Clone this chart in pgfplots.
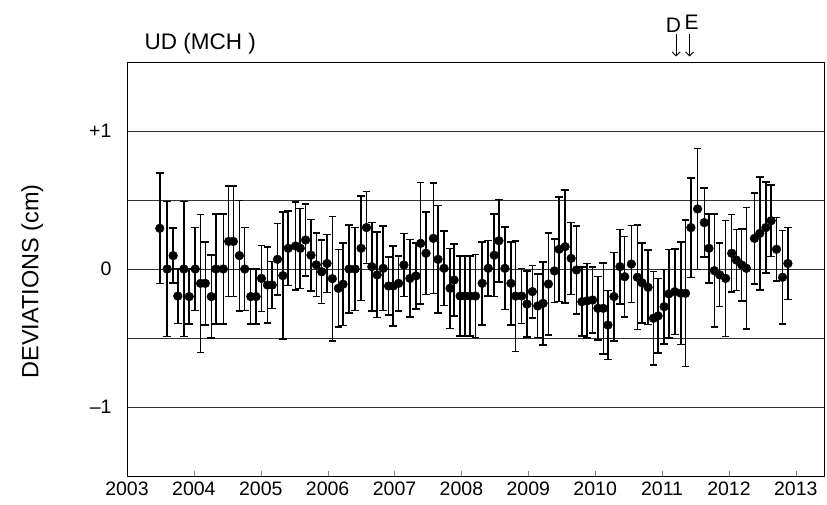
\documentclass[border=0pt]{standalone}
\usepackage{pgfplots}
\pgfplotsset{compat=1.18}
\usepackage{pgfplotstable}
\usepackage{fontspec}
\setmainfont{Liberation Sans}
\usetikzlibrary{arrows.meta}

% year, deviation (cm), error (cm)
\pgfplotstableread{
x y e
2003.49 0.295 0.40
2003.60 0.00 0.49
2003.69 0.097 0.20
2003.76 -0.196 0.20
2003.85 0.00 0.49
2003.93 -0.20 0.20
2004.02 0.00 0.30
2004.10 -0.104 0.50
2004.17 -0.104 0.30
2004.26 -0.20 0.30
2004.33 0.00 0.40
2004.44 0.00 0.40
2004.52 0.20 0.40
2004.59 0.20 0.40
2004.68 0.097 0.40
2004.76 0.00 0.30
2004.85 -0.20 0.20
2004.93 -0.20 0.20
2005.01 -0.068 0.24
2005.10 -0.116 0.275
2005.17 -0.116 0.17
2005.25 0.07 0.26
2005.33 -0.048 0.46
2005.41 0.15 0.27
2005.52 0.167 0.32
2005.59 0.15 0.29
2005.67 0.21 0.26
2005.75 0.10 0.26
2005.83 0.03 0.23
2005.91 -0.02 0.23
2005.99 0.04 0.21
2006.07 -0.07 0.45
2006.16 -0.14 0.28
2006.23 -0.11 0.30
2006.32 0.00 0.32
2006.41 0.00 0.30
2006.50 0.15 0.38
2006.58 0.30 0.26
2006.66 0.017 0.32
2006.74 -0.043 0.31
2006.83 0.005 0.305
2006.91 -0.123 0.21
2006.98 -0.123 0.29
2007.06 -0.104 0.20
2007.14 0.029 0.23
2007.23 -0.068 0.28
2007.32 -0.05 0.24
2007.39 0.186 0.44
2007.47 0.114 0.30
2007.58 0.222 0.40
2007.65 0.07 0.39
2007.74 0.005 0.27
2007.83 -0.14 0.29
2007.89 -0.08 0.26
2007.98 -0.196 0.29
2008.05 -0.196 0.29
2008.13 -0.196 0.29
2008.21 -0.196 0.30
2008.31 -0.104 0.30
2008.40 0.005 0.20
2008.49 0.10 0.30
2008.56 0.205 0.30
2008.65 0.005 0.30
2008.74 -0.104 0.30
2008.81 -0.196 0.40
2008.90 -0.196 0.20
2008.98 -0.254 0.24
2009.06 -0.164 0.19
2009.14 -0.268 0.23
2009.22 -0.249 0.30
2009.30 -0.109 0.37
2009.39 -0.014 0.23
2009.46 0.143 0.38
2009.55 0.162 0.41
2009.64 0.077 0.26
2009.72 -0.007 0.32
2009.80 -0.237 0.25
2009.88 -0.23 0.27
2009.96 -0.225 0.24
2010.04 -0.285 0.23
2010.12 -0.285 0.33
2010.19 -0.406 0.25
2010.28 -0.20 0.32
2010.37 0.017 0.27
2010.44 -0.056 0.29
2010.54 0.036 0.28
2010.63 -0.06 0.38
2010.70 -0.10 0.29
2010.79 -0.133 0.27
2010.87 -0.357 0.34
2010.94 -0.34 0.27
2011.03 -0.273 0.27
2011.10 -0.18 0.32
2011.19 -0.164 0.31
2011.28 -0.176 0.37
2011.35 -0.176 0.53
2011.43 0.30 0.36
2011.53 0.435 0.44
2011.63 0.336 0.25
2011.70 0.15 0.25
2011.78 -0.012 0.41
2011.86 -0.043 0.23
2011.95 -0.068 0.42
2012.04 0.114 0.28
2012.11 0.065 0.22
2012.19 0.029 0.26
2012.26 0.005 0.44
2012.38 0.222 0.33
2012.46 0.258 0.41
2012.55 0.30 0.33
2012.63 0.35 0.26
2012.71 0.143 0.23
2012.80 -0.06 0.34
2012.88 0.04 0.26
}\udmch

\begin{document}
\begin{tikzpicture}
\path[use as bounding box] (-127pt,-28pt) rectangle (700pt,476pt);
\begin{axis}[
  scale only axis, width=697pt, height=414pt,
  xmin=2003, xmax=2013.42, ymin=-1.5, ymax=1.5,
  xtick={2003,...,2013}, xtick pos=bottom, tick align=inside,
  major tick length=5pt,
  ytick={-1,-0.5,0,0.5,1}, yticklabels={–1,,0,,+1},
  ytick style={draw=none},
  ymajorgrids, grid style={black!80, line width=0.8pt},
  /pgf/number format/1000 sep={},
  /pgf/number format/assume math mode=true,
  ticklabel style={font=\fontsize{19.5}{22}\selectfont},
  xticklabel style={yshift=-2pt},
  yticklabel style={xshift=-12pt},
  ylabel={DEVIATIONS (cm)},
  ylabel style={font=\fontsize{23.5}{27}\selectfont, at={(axis description cs:-0.136,0.47)}, anchor=center},
  axis line style={line width=0.9pt},
  clip=false,
]
\addplot[only marks, mark=*, mark size=4.4pt, black,
  error bars/.cd, y dir=both, y explicit,
  error bar style={line width=1.5pt, black},
  error mark options={rotate=90, mark size=3.8pt, line width=1.5pt, black}]
  table[x=x, y=y, y error=e] {\udmch};
\node[anchor=base west, font=\fontsize{22.5}{26}\selectfont] at (axis cs:2003.21,1.587) {UD (MCH )};
\node[anchor=base, font=\fontsize{21}{25}\selectfont] at (axis cs:2011.17,1.717) {D};
\node[anchor=base, font=\fontsize{21}{25}\selectfont] at (axis cs:2011.44,1.735) {E};
\draw[line width=0.9pt, -{Straight Barb[length=4pt]}] (axis cs:2011.21,1.70) -- (axis cs:2011.21,1.54);
\draw[line width=0.9pt, -{Straight Barb[length=4pt]}] (axis cs:2011.41,1.70) -- (axis cs:2011.41,1.54);
\end{axis}
\end{tikzpicture}
\end{document}
